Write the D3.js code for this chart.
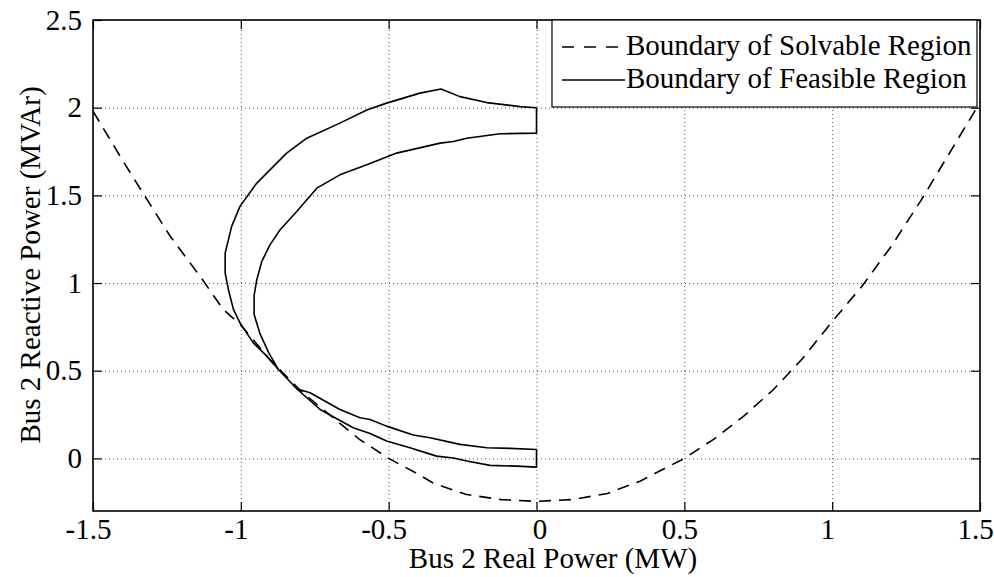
<!DOCTYPE html>
<html>
<head>
<meta charset="utf-8">
<script src="https://cdn.jsdelivr.net/npm/d3@7"></script>
<style>
  body { margin: 0; background: #fff; }
  svg { display: block; font-family: "Liberation Serif", "Times New Roman", serif; }
  .grid line { stroke: #555; stroke-width: 1; stroke-dasharray: 1,3; }
  .grid path { display: none; }
  .ticks path { display: none; }
  .ticks line { stroke: #000; stroke-width: 1.2; }
  .ticks text { font-size: 29px; fill: #000; font-family: "Liberation Serif", "Times New Roman", serif; }
</style>
</head>
<body>
<svg id="chart" width="994" height="577"></svg>
<script>
// tick values
const xTicks = [-1.5, -1, -0.5, 0, 0.5, 1, 1.5];
const yTicks = [0, 0.5, 1, 1.5, 2, 2.5];

// boundary of solvable region (dashed)
const solvP = [-1.5, -1.45, -1.4, -1.33, -1.24, -1.13, -1.06, -1.0, -0.9, -0.8, -0.73, -0.6, -0.5, -0.4, -0.35, -0.24, -0.12, 0,
               0.12, 0.24, 0.35, 0.5, 0.6, 0.7, 0.8, 0.9, 1.0, 1.1, 1.2, 1.3, 1.4, 1.5];
const solvQ = [1.98, 1.84, 1.70, 1.51, 1.27, 1.02, 0.85, 0.76, 0.56, 0.39, 0.29, 0.11, 0.0, -0.09, -0.14, -0.205, -0.235, -0.245,
               -0.235, -0.2, -0.13, 0.0, 0.11, 0.24, 0.39, 0.57, 0.78, 0.98, 1.21, 1.47, 1.75, 2.03];

// boundary of feasible region: outer edge, from (0, 2) round the left to (0, -0.05)
const outerP = [0, -0.056, -0.168, -0.259, -0.323, -0.394, -0.507, -0.574, -0.665, -0.777, -0.845, -0.946, -1.003, -1.031, -1.053, -1.053,
                -1.042, -1.025, -1.003, -0.958, -0.912, -0.873, -0.811, -0.732, -0.62, -0.563, -0.507, -0.428, -0.338, -0.281, -0.236, -0.157, -0.067, 0];
const outerQ = [2.0, 2.006, 2.029, 2.063, 2.107, 2.083, 2.026, 1.987, 1.912, 1.826, 1.741, 1.57, 1.437, 1.323, 1.171, 1.057,
                0.962, 0.85, 0.773, 0.659, 0.583, 0.507, 0.397, 0.279, 0.175, 0.142, 0.099, 0.061, 0.013, 0.002, -0.015, -0.040, -0.044, -0.05];
// inner edge, from (0, 1.855) round the left to (0, 0.05)
const innerP = [0, -0.123, -0.236, -0.281, -0.326, -0.473, -0.574, -0.665, -0.743, -0.811, -0.867, -0.901, -0.929, -0.946, -0.955,
                -0.955, -0.935, -0.905, -0.873, -0.811, -0.766, -0.665, -0.597, -0.563, -0.507, -0.417, -0.36, -0.259, -0.168, -0.09, 0];
const innerQ = [1.855, 1.851, 1.826, 1.807, 1.798, 1.741, 1.674, 1.617, 1.541, 1.408, 1.304, 1.219, 1.124, 1.019, 0.93,
                0.82, 0.71, 0.6, 0.507, 0.397, 0.374, 0.279, 0.232, 0.222, 0.184, 0.133, 0.118, 0.080, 0.061, 0.057, 0.051];

const legendLabels = ["Boundary of Solvable Region", "Boundary of Feasible Region"];

const margin = {left: 93, top: 20, right: 14, bottom: 66};
const W = 994, H = 577;
const iw = W - margin.left - margin.right, ih = H - margin.top - margin.bottom;

const svg = d3.select("#chart");
const g = svg.append("g").attr("transform", `translate(${margin.left},${margin.top})`);

const x = d3.scaleLinear().domain([-1.5, 1.5]).range([0, iw]);
const y = d3.scaleLinear().domain([-0.3, 2.5]).range([ih, 0]);

// grid
g.append("g").attr("class", "grid")
  .attr("transform", `translate(0,${ih})`)
  .call(d3.axisBottom(x).tickValues(xTicks).tickSize(-ih).tickFormat(""));
g.append("g").attr("class", "grid")
  .call(d3.axisLeft(y).tickValues(yTicks).tickSize(-iw).tickFormat(""));

svg.append("clipPath").attr("id", "clip")
  .append("rect").attr("width", iw).attr("height", ih);

const line = d3.line().x(d => x(d[0])).y(d => y(d[1]));

const plot = g.append("g").attr("clip-path", "url(#clip)");

plot.append("path")
  .datum(solvP.map((p, i) => [p, solvQ[i]]))
  .attr("d", line)
  .attr("fill", "none").attr("stroke", "#000").attr("stroke-width", 1.6)
  .attr("stroke-dasharray", "12,8");

const outer = outerP.map((p, i) => [p, outerQ[i]]);
const inner = innerP.map((p, i) => [p, innerQ[i]]).reverse();
plot.append("path")
  .datum(outer.concat(inner, [outer[0]]))
  .attr("d", line)
  .attr("fill", "none").attr("stroke", "#000").attr("stroke-width", 1.6)
  .attr("stroke-linejoin", "round");

// ticks and labels
const fmt = d => d3.format("")(d).replace("−", "-");
g.append("g").attr("class", "ticks")
  .attr("transform", `translate(0,${ih})`)
  .call(d3.axisBottom(x).tickValues(xTicks).tickSizeInner(-9).tickSizeOuter(0).tickPadding(7).tickFormat(fmt))
  .selectAll("text").attr("dx", d => d === 0 ? 3 : -5);
g.append("g").attr("class", "ticks")
  .call(d3.axisTop(x).tickValues(xTicks).tickSizeInner(-9).tickSizeOuter(0).tickFormat(""));
g.append("g").attr("class", "ticks")
  .call(d3.axisLeft(y).tickValues(yTicks).tickSizeInner(-9).tickSizeOuter(0).tickPadding(11).tickFormat(fmt));
g.append("g").attr("class", "ticks")
  .attr("transform", `translate(${iw},0)`)
  .call(d3.axisRight(y).tickValues(yTicks).tickSizeInner(-9).tickSizeOuter(0).tickFormat(""));

g.append("rect")
  .attr("width", iw).attr("height", ih)
  .attr("fill", "none").attr("stroke", "#000").attr("stroke-width", 1.6);

// axis titles
svg.append("text")
  .attr("x", 553).attr("y", 568)
  .attr("text-anchor", "middle").attr("font-size", 29)
  .text("Bus 2 Real Power (MW)");
svg.append("text")
  .attr("transform", "translate(40,265) rotate(-90)")
  .attr("text-anchor", "middle").attr("font-size", 29)
  .text("Bus 2 Reactive Power (MVAr)");

// legend
const lg = svg.append("g");
lg.append("rect")
  .attr("x", 552).attr("y", 20).attr("width", 425).attr("height", 87)
  .attr("fill", "#fff").attr("stroke", "#000").attr("stroke-width", 1.2);
lg.append("line").attr("x1", 562).attr("x2", 620).attr("y1", 47).attr("y2", 47)
  .attr("stroke", "#000").attr("stroke-width", 1.6).attr("stroke-dasharray", "12,10");
lg.append("line").attr("x1", 562).attr("x2", 625).attr("y1", 80).attr("y2", 80)
  .attr("stroke", "#000").attr("stroke-width", 1.6);
lg.selectAll("text.leg").data(legendLabels).enter().append("text")
  .attr("class", "leg")
  .attr("x", 626).attr("y", (d, i) => 55 + i * 33)
  .attr("font-size", 29)
  .text(d => d);
</script>
</body>
</html>
